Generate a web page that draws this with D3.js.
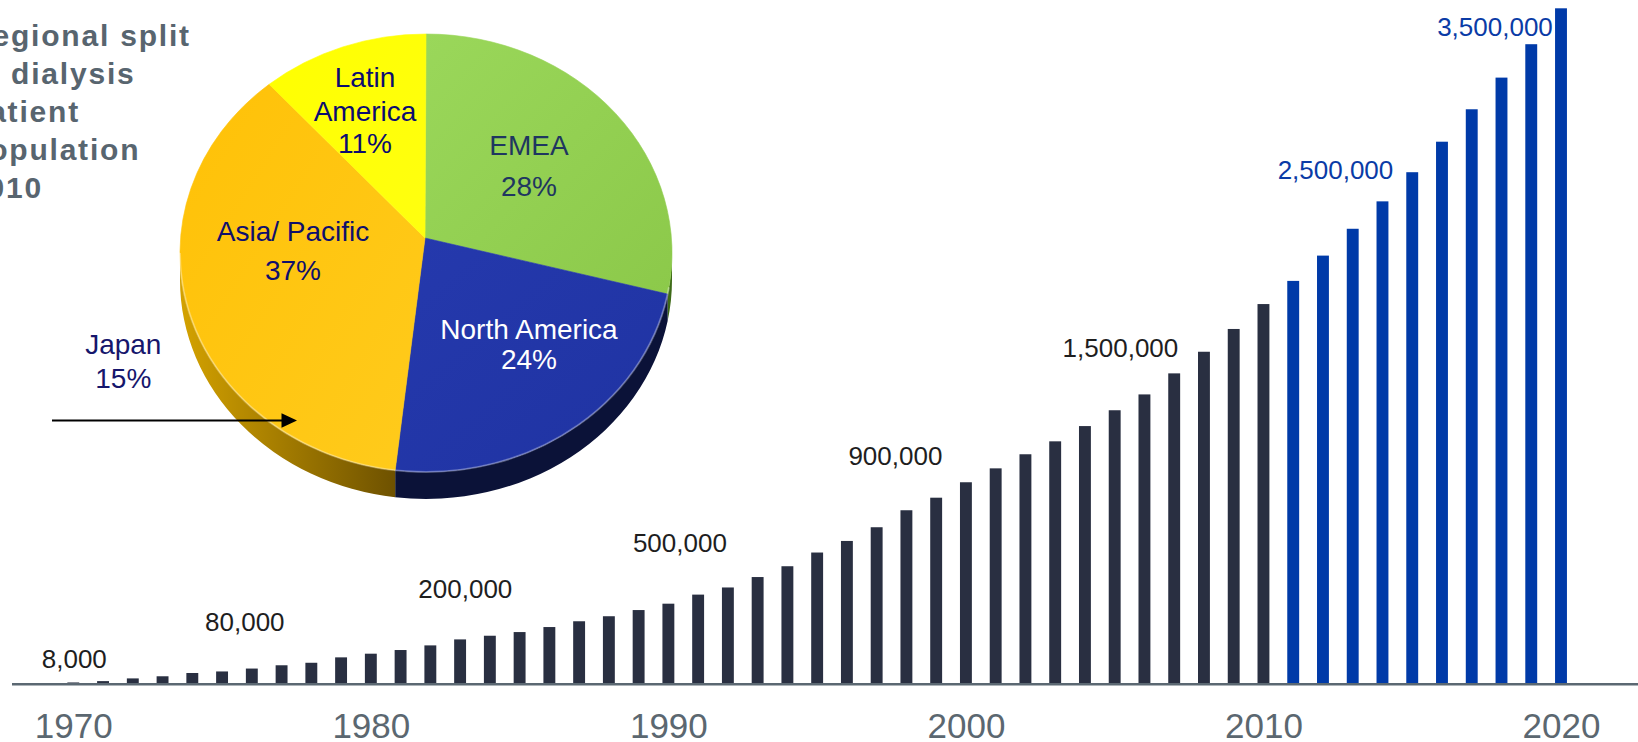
<!DOCTYPE html>
<html>
<head>
<meta charset="utf-8">
<script src="https://cdn.jsdelivr.net/npm/d3@7"></script>
<style>
  html, body { margin: 0; padding: 0; background: #ffffff; }
  svg { display: block; font-family: "Liberation Sans", Arial, Helvetica, sans-serif; }
</style>
</head>
<body>
<svg id="chart" width="1638" height="742"></svg>
<script>
// ---- data -------------------------------------------------------------
const years = d3.range(1970, 2021);
const patients = [
  8000, 15000, 29000, 40000, 57000, 65000, 80000, 97000, 110000, 138000,
  157000, 176000, 200000, 231000, 250000, 269000, 295000, 325000, 351000, 383000,
  416000, 463000, 500000, 554000, 610000, 681000, 741000, 812000, 900000, 965000,
  1045000, 1117000, 1190000, 1257000, 1336000, 1418000, 1500000, 1609000, 1721000, 1839000,
  1968000, 2088000, 2219000, 2358000, 2500000, 2651000, 2809000, 2977000, 3141000, 3314000,
  3500000
];
const lastActualYear = 2010;           // later years are projections
const labelledYears = [1970, 1976, 1982, 1992, 1998, 2006, 2014, 2020];
const axisYears = [1970, 1980, 1990, 2000, 2010, 2020];

const regions = ["EMEA", "North America", "Asia/ Pacific", "Latin America"];
const regionShares = [28, 24, 37, 11];
const japanShare = 15;

const titleLines = ["Regional split", "of dialysis", "patient", "population", "2010"];

// ---- layout -----------------------------------------------------------
const W = 1638, H = 742;
const baseY = 684;
const svg = d3.select("#chart");
const defs = svg.append("defs");

const x = d3.scalePoint().domain(years).range([73.3, 1561]);
const y = d3.scaleLinear().domain([0, 3500000]).range([baseY, 8.3]);
const barW = x.step() * 0.4;
const fmt = d3.format(",");

const rows = years.map((yr, i) => ({ year: yr, value: patients[i] }));

// ---- bars -------------------------------------------------------------
svg.append("g").selectAll("rect")
  .data(rows)
  .join("rect")
  .attr("x", d => x(d.year) - barW / 2)
  .attr("y", d => y(d.value))
  .attr("width", barW)
  .attr("height", d => y(0) - y(d.value))
  .attr("fill", d => d.year <= lastActualYear ? "#292f41" : "#003aa8");

// baseline
svg.append("line")
  .attr("x1", 12).attr("x2", W)
  .attr("y1", baseY + 0.3).attr("y2", baseY + 0.3)
  .attr("stroke", "#5b6872").attr("stroke-width", 2.6);

// x axis labels
const axis = d3.axisBottom(x).tickValues(axisYears).tickSize(0).tickPadding(29);
const ax = svg.append("g").attr("transform", `translate(0,${baseY})`).call(axis);
ax.select(".domain").remove();
ax.selectAll("text")
  .attr("font-family", "\"Liberation Sans\", Arial, sans-serif")
  .attr("font-size", 35)
  .attr("fill", "#5b6770");

// value annotations above selected bars (offsets from bar top centre)
const labelOffsets = {
  1970: [1, -14.5], 1976: [-7, -38], 1982: [35, -47], 1992: [-48, -35.5],
  1998: [-11, -45], 2006: [-24, -37], 2014: [-47, -22], 2020: [-66, 27.7]
};
svg.append("g").selectAll("text")
  .data(rows.filter(d => labelledYears.includes(d.year)))
  .join("text")
  .attr("x", d => x(d.year) + labelOffsets[d.year][0])
  .attr("y", d => y(d.value) + labelOffsets[d.year][1])
  .attr("text-anchor", "middle")
  .attr("font-size", 26)
  .attr("fill", d => d.year <= lastActualYear ? "#1e1e1e" : "#0a3ba6")
  .text(d => fmt(d.value));

// ---- title ------------------------------------------------------------
svg.append("g").selectAll("text")
  .data(titleLines)
  .join("text")
  .attr("x", -31)
  .attr("y", (d, i) => 46 + i * 38.1)
  .attr("font-size", 30)
  .attr("font-weight", "bold")
  .attr("letter-spacing", 1.8)
  .attr("fill", "#58656f")
  .text(d => d);

// ---- 3D pie -----------------------------------------------------------
const cx = 426, cy = 253, rx = 246, ry = 219, depth = 27;
const apex = [425, 238];
const P = a => [cx + rx * Math.sin(a), cy - ry * Math.cos(a)];

const topColors = {
  "EMEA": ["#9ad75a", "#8cc94a"],
  "North America": ["#2539ad", "#1f33a2"],
  "Asia/ Pacific": ["#ffc107", "#ffcb1c"],
  "Latin America": ["#ffff00", "#ffff10"]
};
const sideColors = {
  "EMEA": ["#5c8c2a", "#3e6a18"],
  "North America": ["#151f58", "#0b1238"],
  "Asia/ Pacific": ["#d4a200", "#6b4f00"],
  "Latin America": ["#b3b300", "#8a8a00"]
};

regions.forEach((r, i) => {
  const id = "g" + i;
  const tg = defs.append("linearGradient").attr("id", "top" + id)
    .attr("x1", "0").attr("y1", "0").attr("x2", "1").attr("y2", "1");
  tg.append("stop").attr("offset", "0").attr("stop-color", topColors[r][0]);
  tg.append("stop").attr("offset", "1").attr("stop-color", topColors[r][1]);
  const sg = defs.append("linearGradient").attr("id", "side" + id)
    .attr("gradientUnits", "userSpaceOnUse")
    .attr("x1", cx - rx).attr("y1", 0).attr("x2", cx + rx).attr("y2", 0);
  sg.append("stop").attr("offset", "0").attr("stop-color", sideColors[r][0]);
  sg.append("stop").attr("offset", "0.45").attr("stop-color", sideColors[r][1]);
  sg.append("stop").attr("offset", "1").attr("stop-color", sideColors[r][1]);
});

const arcs = d3.pie().sort(null).value(d => d.share)(
  regions.map((r, i) => ({ region: r, share: regionShares[i] }))
);

const pieG = svg.append("g");

// visible side wall (front half of the rim)
arcs.forEach((a, i) => {
  const s = Math.max(a.startAngle, Math.PI / 2);
  const e = Math.min(a.endAngle, 3 * Math.PI / 2);
  if (s >= e) return;
  const p0 = P(s), p1 = P(e);
  const large = (e - s) > Math.PI ? 1 : 0;
  const d = `M${p0[0]},${p0[1]} A${rx},${ry} 0 ${large} 1 ${p1[0]},${p1[1]}` +
            ` L${p1[0]},${p1[1] + depth} A${rx},${ry} 0 ${large} 0 ${p0[0]},${p0[1] + depth} Z`;
  pieG.append("path").attr("d", d).attr("fill", `url(#sideg${i})`);
});

// top faces
arcs.forEach((a, i) => {
  const p0 = P(a.startAngle), p1 = P(a.endAngle);
  const large = (a.endAngle - a.startAngle) > Math.PI ? 1 : 0;
  const d = `M${apex[0]},${apex[1]} L${p0[0]},${p0[1]} A${rx},${ry} 0 ${large} 1 ${p1[0]},${p1[1]} Z`;
  pieG.append("path").attr("d", d)
    .attr("fill", `url(#topg${i})`)
    .attr("stroke", `url(#topg${i})`).attr("stroke-width", 0.6);
});

// soft highlight along the front rim
{
  const p0 = P(Math.PI * 0.55), p1 = P(Math.PI * 1.5);
  pieG.append("path")
    .attr("d", `M${p0[0]},${p0[1]} A${rx},${ry} 0 0 1 ${p1[0]},${p1[1]}`)
    .attr("fill", "none").attr("stroke", "#ffffff")
    .attr("stroke-opacity", 0.3).attr("stroke-width", 2);
}

// slice labels
const pieLabels = [
  { region: "EMEA", lines: ["EMEA", "28%"], x: 529, ys: [155, 195.7], fill: "#1f3660" },
  { region: "North America", lines: ["North America", "24%"], x: 529, ys: [339.3, 369], fill: "#ffffff" },
  { region: "Asia/ Pacific", lines: ["Asia/ Pacific", "37%"], x: 293, ys: [240.7, 280], fill: "#0f0f6c" },
  { region: "Latin America", lines: ["Latin", "America", "11%"], x: 365, ys: [86.7, 121, 153.3], fill: "#0c0c70" }
];
pieLabels.forEach(l => {
  const share = regionShares[regions.indexOf(l.region)];
  const lines = l.lines.slice(0, -1).concat([share + "%"]);
  const t = pieG.append("text")
    .attr("text-anchor", "middle")
    .attr("font-size", 28)
    .attr("fill", l.fill);
  lines.forEach((ln, k) => {
    t.append("tspan").attr("x", l.x).attr("y", l.ys[k]).text(ln);
  });
});

// Japan call-out
const jp = svg.append("text").attr("text-anchor", "middle")
  .attr("font-size", 28).attr("fill", "#16166c");
jp.append("tspan").attr("x", 123.3).attr("y", 354).text("Japan");
jp.append("tspan").attr("x", 123.3).attr("y", 387.7).text(japanShare + "%");

svg.append("line")
  .attr("x1", 52).attr("x2", 284)
  .attr("y1", 420.5).attr("y2", 420.5)
  .attr("stroke", "#000").attr("stroke-width", 2);
svg.append("path")
  .attr("d", "M281.5,413.3 L297,420.5 L281.5,427.7 Z")
  .attr("fill", "#000");
</script>
</body>
</html>
